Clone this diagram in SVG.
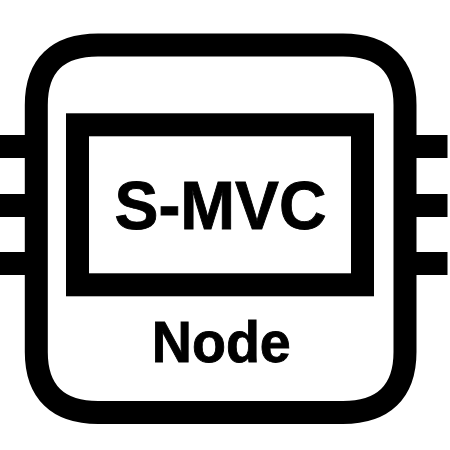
<svg xmlns="http://www.w3.org/2000/svg" width="450" height="450" viewBox="0 0 450 450">
<style>
.b{fill:none;stroke:#000;stroke-width:23}
.p{fill:#000}
text{font-family:"Liberation Sans",Arial,sans-serif;font-weight:bold;text-anchor:middle;fill:#000;stroke:#000;stroke-width:.9}
</style>
<rect width="450" height="450" fill="#fff"/>
<g id="pins">
<rect class="p" x="0" y="135" width="37" height="23"/>
<rect class="p" x="0" y="194" width="37" height="23"/>
<rect class="p" x="0" y="252" width="37" height="23"/>
<rect class="p" x="405" y="135" width="42.500" height="23"/>
<rect class="p" x="405" y="194" width="42.500" height="23"/>
<rect class="p" x="405" y="252" width="42.500" height="23"/>
</g>
<g id="node">
<path class="b" d="M36.300 105C36.300 65 58 45 98 45H343C383 45 405 65 405 105V352C405 392 383 412.500 343 412.500H98C58 412.500 36.300 392 36.300 352Z"/>
<text x="221.300" y="362" font-size="58" textLength="139" lengthAdjust="spacingAndGlyphs">Node</text>
</g>
<g id="s-mvc">
<rect class="b" x="77.500" y="124.800" width="285" height="160"/>
<text x="220.500" y="229" font-size="68.500" textLength="212" lengthAdjust="spacingAndGlyphs">S-MVC</text>
</g>
</svg>
